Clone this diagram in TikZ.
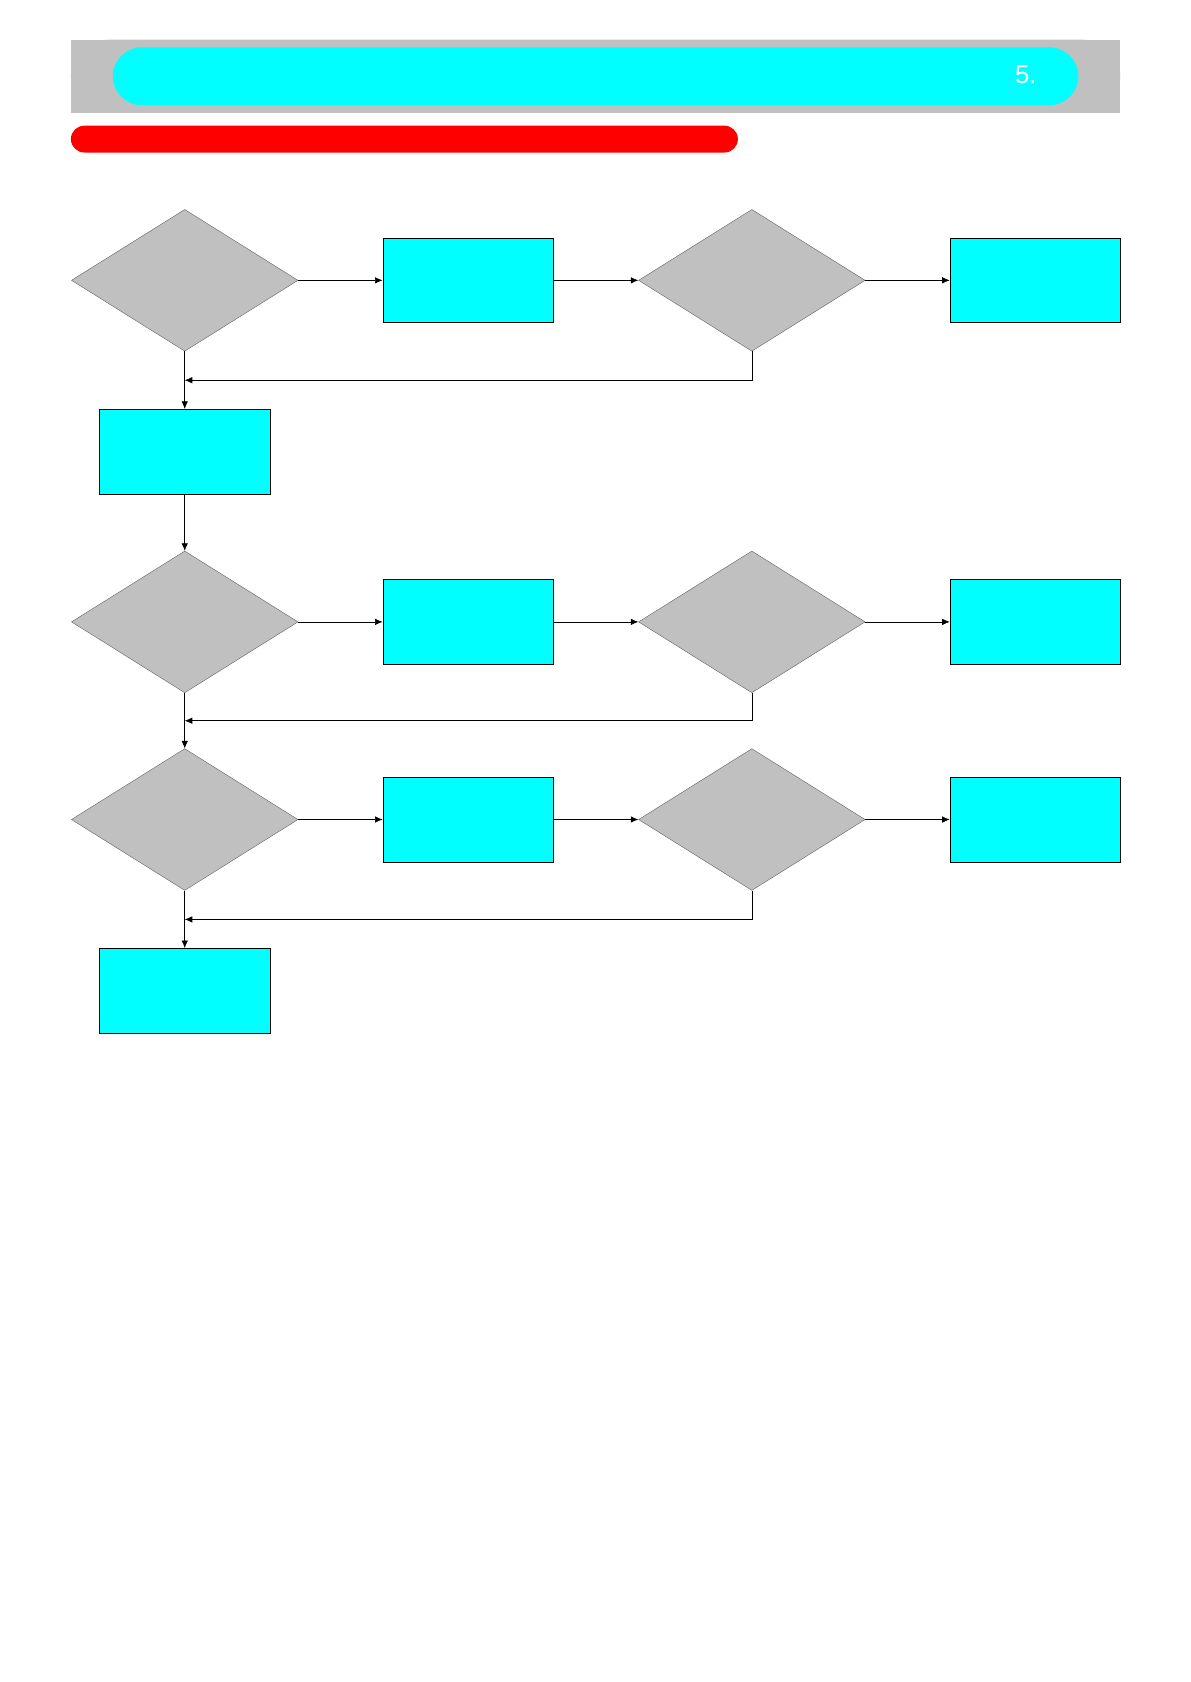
\documentclass[tikz,border=0pt]{standalone}
\usepackage{fontspec}
\setmainfont{Liberation Sans}
\usetikzlibrary{shapes.geometric,arrows.meta}
\definecolor{cy}{RGB}{0,255,255}
\definecolor{gr}{RGB}{192,192,192}
\tikzset{
 pbox/.style={draw=black,fill=cy,minimum width=159,minimum height=79,inner sep=0,line width=0.6pt},
 dec/.style={draw=black!60,fill=gr,diamond,aspect=1.6,minimum width=211,minimum height=132,inner sep=0,line width=0.4pt},
 arr/.style={-{Latex[length=7pt,width=6pt]},line width=0.6pt}
}
\begin{document}
\begin{tikzpicture}[x=1pt,y=-1pt]
\useasboundingbox (0,0) rectangle (1108,1566);
\fill[gr] (66,37) rectangle (1043,105);
\fill[gr,rounded corners=34pt] (66,37) rectangle (1043,105);
\fill[cy,rounded corners=27pt] (105,44) rectangle (1004,98);
\node[text=white,font=\fontsize{24}{26}\selectfont] (num) at (955,70) {5.};
\fill[red,rounded corners=12.5pt] (66,117) rectangle (687,142);
\foreach \r/\y in {1/261,2/579,3/763}{
 \node[dec] (da\r) at (172,\y) {};
 \node[pbox] (ba\r) at (436,\y) {};
 \node[dec] (db\r) at (700,\y) {};
 \node[pbox] (bb\r) at (964,\y) {};
 \draw[arr] (da\r) -- (ba\r);
 \draw[arr] (ba\r) -- (db\r.west);
 \draw[arr] (db\r) -- (bb\r);
}
\coordinate (m1) at (172,354);
\coordinate (m2) at (172,671);
\coordinate (m3) at (172,856);
\node[pbox] (c1) at (172,420.5) {};
\node[pbox] (c3) at (172,922.5) {};
\draw[arr] (db1.south) |- (m1);
\draw[arr] (db2.south) |- (m2);
\draw[arr] (db3.south) |- (m3);
\draw[arr] (da1.south) -- (c1.north);
\draw[arr] (c1.south) -- (da2.north);
\draw[arr] (da2.south) -- (da3.north);
\draw[arr] (da3.south) -- (c3.north);
\end{tikzpicture}
\end{document}
